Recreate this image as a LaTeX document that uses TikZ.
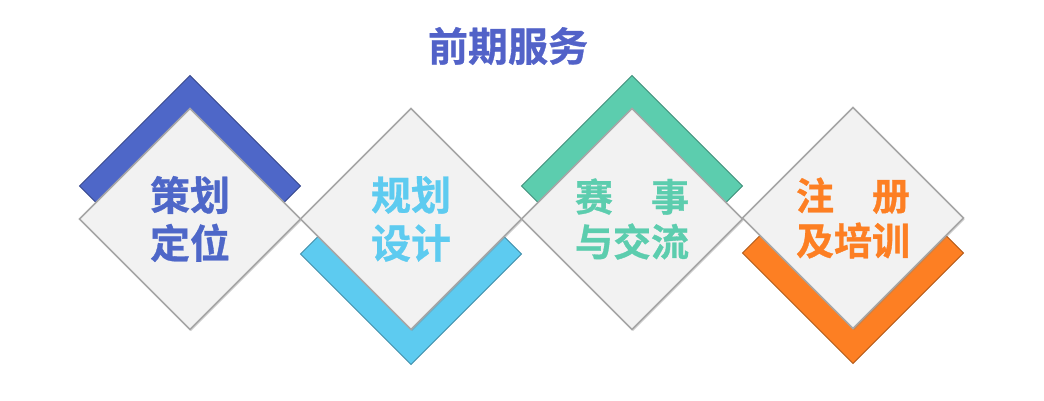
\documentclass[tikz,border=0pt]{standalone}
\usepackage{fontspec}
\newfontfamily\cjk{Noto Sans CJK SC Bold}[FakeBold=0.8]
\usetikzlibrary{shapes.geometric,shadows}

\definecolor{titleblue}{RGB}{82,98,200}
\definecolor{planblue}{RGB}{78,103,200}
\definecolor{designcyan}{RGB}{93,203,240}
\definecolor{matchgreen}{RGB}{92,205,174}
\definecolor{trainorange}{RGB}{253,127,35}
\definecolor{boxgray}{RGB}{242,242,242}
\definecolor{edgegray}{RGB}{166,166,166}

\begin{document}
\begin{tikzpicture}[x=1pt,y=1pt,
    tile/.style={diamond, minimum width=221pt, minimum height=221pt, inner sep=0pt, outer sep=0pt},
    band/.style={tile, fill=#1, draw=#1!70!black, line width=0.8pt},
    card/.style={tile, fill=boxgray, draw=edgegray, line width=1.6pt, align=center,
        drop shadow={shadow xshift=1pt, shadow yshift=-1.5pt, opacity=0.35, fill=gray}},
    big/.style={font=\cjk\fontsize{40}{48}\selectfont},
    small/.style={font=\cjk\fontsize{38}{45}\selectfont}]

    \useasboundingbox (0,0) rectangle (1044,400);

\node[big, text=titleblue] (title) at (508,354) {前期服务};

% first pair: band above
\node[band=planblue] (B1) at (190,214) {};
\node[card, big, text=planblue] (D1) at (190,181) {策划\\定位};

% second pair: band below
\node[band=designcyan] (B2) at (411,146) {};
\node[card, big, text=designcyan] (D2) at (411,181) {规划\\设计};

\node[band=matchgreen] (B3) at (632,214) {};
\node[card, small, text=matchgreen] (D3) at (632,181) {赛　事\\与交流};

\node[band=trainorange] (B4) at (853,147) {};
\node[card, small, text=trainorange] (D4) at (853,182) {注　册\\及培训};

\end{tikzpicture}
\end{document}
